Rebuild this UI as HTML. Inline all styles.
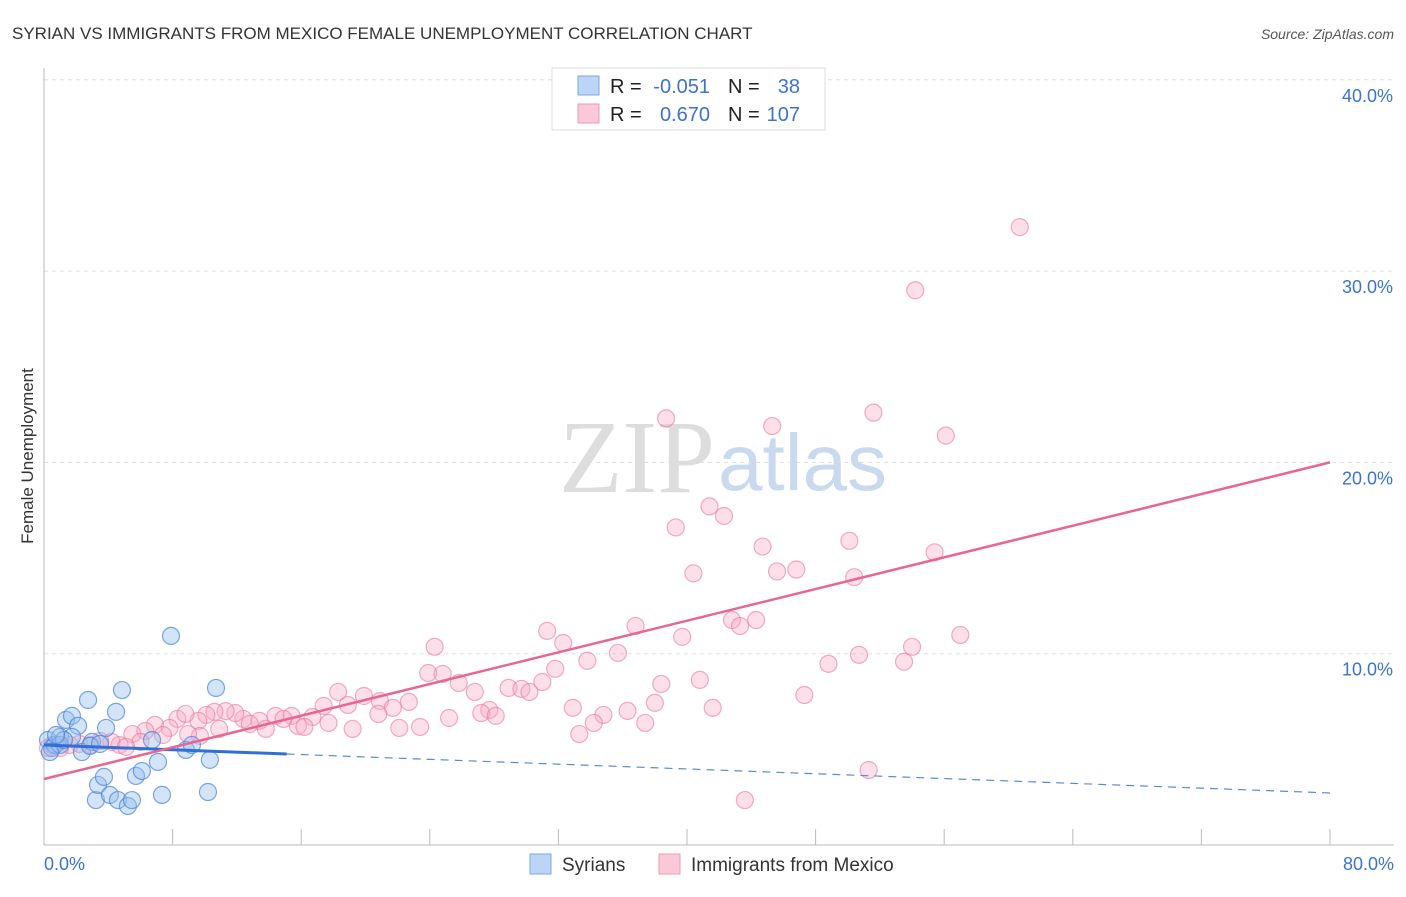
<!DOCTYPE html>
<html><head><meta charset="utf-8"><style>
body{margin:0;background:#fff;font-family:"Liberation Sans",sans-serif;}
</style></head><body>
<svg id="c" width="1406" height="892" xmlns="http://www.w3.org/2000/svg">
<text x="12" y="39" font-size="17" fill="#333">SYRIAN VS IMMIGRANTS FROM MEXICO FEMALE UNEMPLOYMENT CORRELATION CHART</text>
<text x="1394" y="39" font-size="14" fill="#555" font-style="italic" text-anchor="end">Source: ZipAtlas.com</text>
<text x="715" y="492" font-size="104" fill="#ddd" text-anchor="end" font-family="Liberation Serif,serif">ZIP</text>
<text x="718" y="490" font-size="80" fill="#c9daf0">atlas</text>
<text transform="translate(33,456) rotate(-90)" font-size="17" fill="#333" text-anchor="middle">Female Unemployment</text>
<g id="grid"></g><g id="pts"></g><g id="lines"></g>
<g>
<rect x="552" y="68" width="273" height="62" fill="#fff" stroke="#ddd"/>
<rect x="578" y="76" width="21" height="19" fill="#bcd4f5" stroke="#7aa7e6"/>
<rect x="578" y="104" width="21" height="19" fill="#fbc8d7" stroke="#ef9ab5"/>
<text x="610" y="93" font-size="20" fill="#222">R =</text>
<text x="710" y="93" font-size="20" fill="#3b73d1" text-anchor="end">-0.051</text>
<text x="728" y="93" font-size="20" fill="#222">N =</text>
<text x="800" y="93" font-size="20" fill="#3b73d1" text-anchor="end">38</text>
<text x="610" y="121" font-size="20" fill="#222">R =</text>
<text x="710" y="121" font-size="20" fill="#3b73d1" text-anchor="end">0.670</text>
<text x="728" y="121" font-size="20" fill="#222">N =</text>
<text x="800" y="121" font-size="20" fill="#3b73d1" text-anchor="end">107</text>
</g>
<g>
<rect x="530" y="854" width="21" height="20" fill="#bcd4f5" stroke="#7aa7e6"/>
<text x="562" y="871" font-size="19" fill="#333">Syrians</text>
<rect x="659" y="854" width="21" height="20" fill="#fbc8d7" stroke="#ef9ab5"/>
<text x="691" y="871" font-size="19" fill="#333">Immigrants from Mexico</text>
</g>
</svg>
<script>
const xTicks=[0,8,16,24,32,40,48,56,64,72,80];
const yTicks=[10,20,30,40];
const yTickLabels=["10.0%","20.0%","30.0%","40.0%"];
const syrX=[0.25,0.5,0.68,1,1.37,1.74,2.12,1.74,2.36,2.74,2.99,3.23,3.36,3.73,3.86,4.1,4.48,4.6,4.85,5.22,5.47,5.72,6.09,6.72,7.09,7.34,7.9,8.83,9.2,10.32,10.2,10.7,1,1.24,2.86,0.75,0.37,3.48];
const syrY=[5.49,5.07,5.23,5.65,6.54,6.75,6.23,5.65,4.86,7.58,5.39,2.35,3.14,3.56,6.12,2.62,6.96,2.35,8.1,2.04,2.35,3.61,3.87,5.49,4.34,2.62,10.93,4.97,5.23,4.45,2.77,8.21,5.23,5.49,5.18,5.75,4.86,5.28];
const mexX=[60.7,54.2,38.7,51.6,45.3,56.1,41.4,42.3,39.3,50.1,44.7,55.4,40.4,45.6,46.8,50.4,42.8,43.3,44.3,31.3,32.3,36.8,39.7,57.0,24.3,54.0,35.7,50.7,33.8,53.5,48.8,31.8,23.9,24.8,40.8,25.8,38.4,31.0,28.9,29.7,30.2,26.8,18.3,19.9,47.3,20.9,22.7,18.9,17.4,21.7,27.7,32.9,38.0,41.6,36.3,34.8,27.2,25.2,28.1,20.8,23.4,22.1,34.2,37.4,33.3,19.2,17.7,16.7,15.4,14.4,14.9,13.4,12.4,11.9,11.3,10.6,10.1,9.6,8.3,8.8,7.8,6.9,7.4,6.3,5.5,4.7,4.2,3.5,2.9,2.2,1.6,1.0,0.5,0.25,15.8,16.2,51.3,43.6,13.8,12.8,6.0,9.7,8.96,5.1,10.9];
const mexY=[32.3,29.0,22.3,22.6,21.9,21.4,17.7,17.2,16.6,15.9,15.6,15.3,14.2,14.3,14.4,14.0,11.76,11.45,11.76,11.19,10.56,11.45,10.88,10.98,10.36,10.36,10.04,9.94,9.63,9.58,9.47,9.21,8.99,8.94,8.63,8.47,8.42,8.52,8.21,8.16,8.0,8.0,8.0,7.79,7.84,7.53,7.48,7.32,7.27,7.17,7.06,7.17,7.43,7.17,7.01,6.8,6.9,6.64,6.75,6.85,6.17,6.12,6.38,6.38,5.8,6.07,6.38,6.69,6.75,6.75,6.59,6.49,6.59,6.9,7.0,6.96,6.8,6.49,6.59,6.85,6.12,6.28,5.75,5.96,5.8,5.23,5.39,5.44,5.23,5.28,5.23,5.07,5.23,5.07,6.23,6.17,3.92,2.35,6.07,6.33,5.39,5.7,5.8,5.13,6.07];
const syrTrend=[5.23,2.72], mexTrend=[3.45,20.0], syrSolidEnd=15.1;
const NS="http://www.w3.org/2000/svg";
const X=v=>44+v/80*1286, Y=v=>845-v*19.13;
function mk(t,a,p){const e=document.createElementNS(NS,t);for(const k in a)e.setAttribute(k,a[k]);p.appendChild(e);return e;}
const g=document.getElementById('grid'),P=document.getElementById('pts'),L=document.getElementById('lines');
yTicks.forEach((t,i)=>{const l=mk('line',{x1:44,x2:1394,y1:Y(t),y2:Y(t),stroke:'#ddd','stroke-dasharray':'4,4'},g);

const tx=mk('text',{x:1393,y:Y(t)+22,'font-size':18,fill:'#3b73d1','text-anchor':'end'},g);tx.textContent=yTickLabels[i];
});
const ax=mk('line',{x1:44,x2:44,y1:68,y2:845,stroke:'#bbb'},g);
const bx=mk('line',{x1:44,x2:1394,y1:845,y2:845,stroke:'#bbb'},g);
xTicks.forEach(t=>{const l=mk('line',{x1:X(t),x2:X(t),y1:829,y2:845,stroke:'#bbb'},g);});
const x0=mk('text',{x:44,y:870,'font-size':18,fill:'#3b73d1'},g);x0.textContent='0.0%';
const x1=mk('text',{x:1394,y:870,'font-size':18,fill:'#3b73d1','text-anchor':'end'},g);x1.textContent='80.0%';
mexX.forEach((v,i)=>{const c=mk('circle',{cx:X(v),cy:Y(mexY[i]),r:8.5,fill:'rgba(248,170,195,0.38)',stroke:'rgba(232,120,160,0.6)','stroke-width':1.2},P);
});
syrX.forEach((v,i)=>{const c=mk('circle',{cx:X(v),cy:Y(syrY[i]),r:8.5,fill:'rgba(150,190,240,0.42)',stroke:'rgba(70,130,220,0.7)','stroke-width':1.2},P);
});
const sy=v=>syrTrend[0]+(syrTrend[1]-syrTrend[0])*v/80;
const a=mk('line',{x1:X(0),y1:Y(sy(0)),x2:X(syrSolidEnd),y2:Y(sy(syrSolidEnd)),stroke:'#2f6fd6','stroke-width':3},L);
const b=mk('line',{x1:X(syrSolidEnd),y1:Y(sy(syrSolidEnd)),x2:X(80),y2:Y(sy(80)),stroke:'#5a8ad8','stroke-width':1.2,'stroke-dasharray':'8,6'},L);
const m=mk('line',{x1:X(0),y1:Y(mexTrend[0]),x2:X(80),y2:Y(mexTrend[1]),stroke:'#e8668f','stroke-width':2.5},L);
</script>
</body></html>
